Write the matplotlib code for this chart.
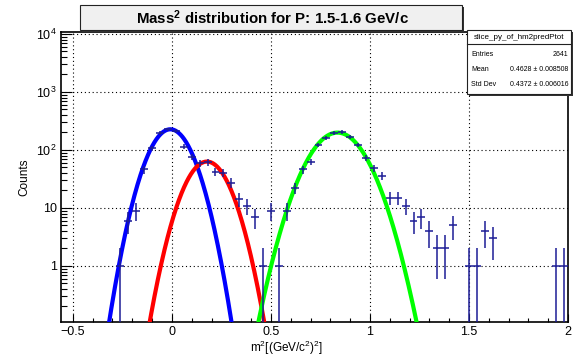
import numpy as np
import matplotlib
matplotlib.use("Agg")
import matplotlib.pyplot as plt
from matplotlib.patches import Rectangle
from matplotlib.ticker import FixedLocator, LogLocator, NullFormatter
from matplotlib import font_manager

plt.rcParams['font.family'] = ['Liberation Sans', 'DejaVu Sans']
plt.rcParams['mathtext.fontset'] = 'custom'
plt.rcParams['mathtext.rm'] = 'Liberation Sans'
plt.rcParams['mathtext.it'] = 'Liberation Sans:italic'
plt.rcParams['mathtext.bf'] = 'Liberation Sans:bold'

# ---- data (histogram bins, width 0.04) ----
bin_centers = [-0.26, -0.22, -0.18, -0.14, -0.10, -0.06, -0.02, 0.02, 0.06, 0.10,
               0.14, 0.18, 0.22, 0.26, 0.30, 0.34, 0.38, 0.42, 0.46, 0.50,
               0.54, 0.58, 0.62, 0.66, 0.70, 0.74, 0.78, 0.82, 0.86, 0.90,
               0.94, 0.98, 1.02, 1.06, 1.10, 1.14, 1.18, 1.22, 1.26, 1.30,
               1.34, 1.38, 1.42, 1.50, 1.54, 1.58, 1.62, 1.94, 1.98]
counts = [1, 6, 9, 46, 107, 194, 228, 213, 114, 77,
          59, 61, 42, 40, 27, 14, 11, 7, 1, 9,
          1, 9, 22, 46, 63, 122, 160, 197, 205, 168,
          122, 72, 48, 36, 15, 15, 11, 6, 7, 4,
          2, 2, 5, 1, 1, 4, 3, 1, 1]
bin_width = 0.04

# Gaussian fit parameters (amplitude, mean, sigma)
fit_pion = (227.0, -0.008, 0.079)
fit_kaon = (63.0, 0.177, 0.081)
fit_proton = (199.0, 0.836, 0.103)

title = r"Mass$^{\mathbf{2}}$ distribution for P: 1.5-1.6 GeV/c"
stats_name = "slice_py_of_hm2predPtot"
stats_rows = [("Entries", "2641"),
              ("Mean", "0.4628 \u00b1 0.008508"),
              ("Std Dev", "0.4372 \u00b1 0.006016")]
x_ticks = [-0.5, 0, 0.5, 1, 1.5, 2]
x_tick_labels = ["\u22120.5", "0", "0.5", "1", "1.5", "2"]
y_ticks = [1, 10, 100, 1000, 10000]
y_tick_labels = ["1", "10", "$10^{2}$", "$10^{3}$", "$10^{4}$"]

W, H = 574, 356
fig = plt.figure(figsize=(W / 100, H / 100), dpi=100)

def fx(px):
    return px / W

def fy(py):
    return 1 - py / H

ax = fig.add_axes([fx(61), fy(322), fx(568) - fx(61), fy(32) - fy(322)])
ax.set_xlim(-0.56, 2.0)
ax.set_yscale('log')
ax.set_ylim(0.108, 1.08e4)

# grid
for xv in x_ticks:
    ax.axvline(xv, color='black', lw=0.8, ls=(0, (1, 2.5)), zorder=0)
for yv in y_ticks:
    ax.axhline(yv, color='black', lw=0.8, ls=(0, (1, 2.5)), zorder=0)

# fit curves
xs = np.linspace(-0.56, 2.0, 1200)
for (amp, mu, sig), col in [(fit_pion, '#0000ff'), (fit_kaon, '#ff0000'), (fit_proton, '#00ff00')]:
    ys = amp * np.exp(-0.5 * ((xs - mu) / sig) ** 2)
    ax.plot(xs, ys, color=col, lw=3.0, zorder=3, solid_capstyle='butt')

# data points with Poisson errors
xc = np.array(bin_centers)
n = np.array(counts, dtype=float)
err = np.sqrt(n)
lower = np.minimum(err, n - 1e-4)
ax.errorbar(xc, n, xerr=bin_width / 2, yerr=[lower, err], fmt='none',
            ecolor='#1c1c96', elinewidth=1.1, capsize=0, zorder=4)

# ticks
ax.xaxis.set_major_locator(FixedLocator(x_ticks))
ax.set_xticklabels(x_tick_labels)
ax.xaxis.set_minor_locator(FixedLocator(np.round(np.arange(-0.5, 2.001, 0.1), 3)))
ax.yaxis.set_major_locator(FixedLocator(y_ticks))
ax.set_yticklabels(y_tick_labels)
ax.yaxis.set_minor_locator(LogLocator(base=10, subs=np.arange(2, 10)))
ax.yaxis.set_minor_formatter(NullFormatter())
ax.tick_params(axis='x', which='major', direction='in', length=6, width=0.8,
               labelsize=9, pad=3, top=False)
ax.tick_params(axis='x', which='minor', direction='in', length=3, width=0.8, top=False)
ax.tick_params(axis='y', which='major', direction='in', length=8, width=0.8,
               labelsize=9, pad=3, right=False)
ax.tick_params(axis='y', which='minor', direction='in', length=4.5, width=0.8, right=False)
for s in ax.spines.values():
    s.set_linewidth(1.2)

fig.text(fx(287), fy(348), "m$^{2}$[(GeV/c$^{2}$)$^{2}$]", ha='center', va='center', fontsize=8.5)
fig.text(fx(24), fy(177), "Counts", ha='center', va='center', rotation=90, fontsize=8.5)

# title box with shadow
fig.patches.append(Rectangle((fx(82), fy(32)), fx(464) - fx(82), fy(7) - fy(32),
                             transform=fig.transFigure, facecolor='#333333',
                             edgecolor='none', zorder=1))
fig.patches.append(Rectangle((fx(80), fy(30)), fx(462) - fx(80), fy(5) - fy(30),
                             transform=fig.transFigure, facecolor='#f0f0f0',
                             edgecolor='#222222', lw=0.8, zorder=2))
names = {f.name for f in font_manager.fontManager.ttflist}
if 'Liberation Sans Narrow' in names:
    tfam, tsize = ['Liberation Sans Narrow', 'Liberation Sans'], 12.5
else:
    tfam, tsize = ['Liberation Sans'], 10.8
fig.text(fx(273), fy(17.5), title, ha='center', va='center', fontsize=tsize,
         fontweight='bold', family=tfam, zorder=3)

# stats box
sx0, sx1, sy0, sy1 = 467, 571, 30, 94
fig.patches.append(Rectangle((fx(sx0 + 1.5), fy(sy1 + 1.5)), fx(sx1) - fx(sx0), fy(sy0) - fy(sy1),
                             transform=fig.transFigure, facecolor='#333333',
                             edgecolor='none', zorder=5))
fig.patches.append(Rectangle((fx(sx0), fy(sy1)), fx(sx1) - fx(sx0), fy(sy0) - fy(sy1),
                             transform=fig.transFigure, facecolor='white',
                             edgecolor='#222222', lw=0.8, zorder=6))
fig.add_artist(plt.Line2D([fx(sx0), fx(sx1)], [fy(44), fy(44)], transform=fig.transFigure,
                          color='#222222', lw=0.8, zorder=7))
fig.text(fx((sx0 + sx1) / 2), fy(37.5), stats_name, ha='center', va='center', fontsize=5.8, zorder=8)
for i, (k, v) in enumerate(stats_rows):
    yy = fy(54 + i * 15.5)
    fig.text(fx(sx0 + 4), yy, k, ha='left', va='center', fontsize=5.0, zorder=8)
    fig.text(fx(sx1 - 3), yy, v, ha='right', va='center', fontsize=5.0, zorder=8)

fig.savefig("out.png", dpi=100)
